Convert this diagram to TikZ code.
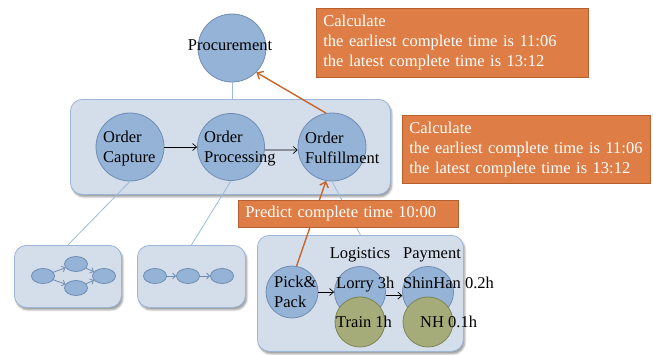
\documentclass[tikz,border=0pt]{standalone}
\usepackage{fontspec}
\setmainfont{Liberation Serif}
\usetikzlibrary{arrows.meta,shadows.blur,shapes.geometric}
\definecolor{boxfill}{HTML}{D4DEEB}
\definecolor{boxline}{HTML}{9BB5D6}
\definecolor{cfill}{HTML}{94B3D6}
\definecolor{cline}{HTML}{6F8DB3}
\definecolor{gfill}{HTML}{A6AB7A}
\definecolor{gline}{HTML}{7E8552}
\definecolor{ofill}{HTML}{DE7D45}
\definecolor{oline}{HTML}{B5602E}
\definecolor{oarr}{HTML}{C8652C}
\definecolor{linkc}{HTML}{9DBAD9}
\begin{document}
\begin{tikzpicture}[x=1pt,y=-1pt,
  font=\fontsize{16.5}{20}\selectfont,
  roundbox/.style={draw=boxline, fill=boxfill, rounded corners=12pt, line width=0.8pt, anchor=north west,
    blur shadow={shadow xshift=1.5pt, shadow yshift=-2.5pt, shadow blur steps=5, shadow opacity=40}},
  bcirc/.style={circle, draw=cline, fill=cfill, line width=0.8pt, inner sep=0pt},
  gcirc/.style={circle, draw=gline, fill=gfill, line width=0.8pt, inner sep=0pt},
  sell/.style={ellipse, draw=cline, fill=cfill, line width=0.8pt, minimum width=23pt, minimum height=15pt, inner sep=0pt},
  obox/.style={draw=oline, fill=ofill, text=white, align=left, inner xsep=7pt, inner ysep=0pt, anchor=north west, line width=0.8pt},
  link/.style={draw=linkc, line width=0.8pt},
  flow/.style={-{Straight Barb[length=4pt,width=7pt]}, line width=0.7pt},
  sflow/.style={-{Straight Barb[length=3pt,width=6pt]}, draw=cline, line width=0.8pt},
  oarrow/.style={-{Straight Barb[length=5pt,width=9pt]}, draw=oarr, line width=1.4pt},
  txt/.style={inner sep=0pt, align=left}
]
\useasboundingbox (0,0) rectangle (653,354);

% containers
\node[roundbox, minimum width=320pt, minimum height=95pt] (mid) at (70,99) {};
\node[roundbox, minimum width=107pt, minimum height=62pt] (lb1) at (14,245) {};
\node[roundbox, minimum width=108pt, minimum height=62pt] (lb2) at (137,245) {};
\node[roundbox, minimum width=206pt, minimum height=116pt] (lb3) at (257,235) {};

% top circles
\node[bcirc, minimum size=68pt] (procu) at (232,48) {};
\node[bcirc, minimum size=68pt] (cap) at (130,147) {};
\node[bcirc, minimum size=67pt] (proc) at (231,147) {};
\node[bcirc, minimum size=68pt] (ful) at (332,147) {};

% links
\draw[link] (procu.south) -- (procu.south |- mid.north);
\draw[link] (cap.south) -- (lb1.north);
\draw[link] (proc.south) -- (lb2.north);
\draw[link] (ful.south) -- (lb3.north);

% middle arrows
\draw[flow] (cap) -- (proc);
\draw[flow] (proc.-5) -- (ful.185);

% small flows
\node[sell] (a1) at (43,276) {};
\node[sell] (a2) at (76,264) {};
\node[sell] (a3) at (76,288) {};
\node[sell] (a4) at (104,276) {};
\draw[sflow] (a1) -- (a2);
\draw[sflow] (a1) -- (a3);
\draw[sflow] (a2) -- (a4);
\draw[sflow] (a3) -- (a4);
\node[sell] (b1) at (155,276) {};
\node[sell] (b2) at (188,276) {};
\node[sell] (b3) at (222,276) {};
\draw[sflow] (b1) -- (b2);
\draw[sflow] (b2) -- (b3);

% lower right circles
\node[bcirc, minimum size=52pt] (pick) at (292,292) {};
\node[bcirc, minimum size=51pt] (lorry) at (360,292) {};
\node[gcirc, minimum size=50pt] (train) at (360,322) {};
\node[bcirc, minimum size=51pt] (shin) at (428,292) {};
\node[gcirc, minimum size=50pt] (nh) at (428,322) {};
\draw[flow] (pick) -- (lorry);
\draw[flow] (lorry.-8) -- (shin.188);

% orange arrows
\draw[oarrow] (ful.100) -- (procu.-45);
\draw[oarrow] (pick.80) -- (ful.-100);

% orange boxes
\node[obox, text width=258pt, minimum height=69pt] (calc1) at (316,8)
  {Calculate\\\mbox{the earliest complete time is 11:06}\\\mbox{the latest complete time is 13:12}};
\node[obox, text width=234pt, minimum height=68pt] (calc2) at (402,115)
  {Calculate\\\mbox{the earliest complete time is 11:06}\\\mbox{the latest complete time is 13:12}};
\node[obox, text width=206pt, minimum height=27pt] (pred) at (238,200)
  {\mbox{Predict complete time 10:00}};

% texts
\node[txt, anchor=base] (procuT) at (230,50) {Procurement};
\node[txt, anchor=west] (capT) at (103,149) {Order\\Capture};
\node[txt, anchor=west] (procT) at (204,149) {Order\\Processing};
\node[txt, anchor=west] (fulT) at (305,148) {Order\\Fulfillment};
\node[txt, anchor=west] (pickT) at (274,292) {Pick\&\\Pack};
\node[txt, anchor=base west] (lorryT) at (336,288) {Lorry 3h};
\node[txt, anchor=base west] (shinT) at (403,288) {ShinHan 0.2h};
\node[txt, anchor=base west] (trainT) at (336,327) {Train 1h};
\node[txt, anchor=base west] (nhT) at (420,327) {NH 0.1h};
\node[txt, anchor=base] (logT) at (360,258) {Logistics};
\node[txt, anchor=base] (payT) at (432,258) {Payment};
\end{tikzpicture}
\end{document}
